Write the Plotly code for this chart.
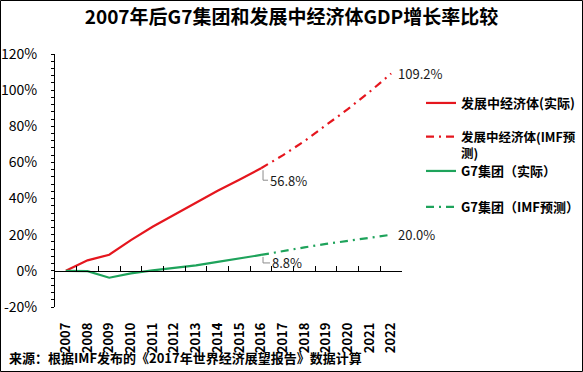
import plotly.graph_objects as go

years = list(range(2007, 2023))
year_labels = [str(y) for y in years]

actual_years = list(range(2007, 2017))
forecast_years = list(range(2016, 2023))

dev_actual = [0.0, 5.8, 8.9, 17.0, 24.4, 31.1, 37.8, 44.3, 50.4, 56.8]
dev_forecast = [56.8, 63.9, 71.8, 80.4, 89.5, 99.0, 109.2]
g7_actual = [0.0, -0.2, -3.8, -1.4, 0.3, 1.7, 3.0, 5.0, 7.0, 8.8]
g7_forecast = [8.8, 11.0, 13.0, 14.9, 16.7, 18.5, 20.0]

names = ["发展中经济体(实际)", "发展中经济体(IMF预<br>测)", "G7集团（实际）", "G7集团（IMF预测）"]
y_ticks = [-20, 0, 20, 40, 60, 80, 100, 120]

RED = "#e5161e"
GREEN = "#1ea35b"
DASH = "8px,5px,2px,5px"
FONT = "Noto Sans CJK SC"

W, H = 583, 372
L, R, T, B = 55, 181, 54, 65
PW, PH = W - L - R, H - T - B


def px_x(p):
    return (p - L) / PW


def px_y(p):
    return (H - B - p) / PH


fig = go.Figure()
fig.add_trace(go.Scatter(x=actual_years, y=dev_actual, mode="lines", name=names[0],
                         line=dict(color=RED, width=2.2), legend="legend"))
fig.add_trace(go.Scatter(x=forecast_years, y=dev_forecast, mode="lines", name=names[1],
                         line=dict(color=RED, width=2.2, dash=DASH), legend="legend2"))
fig.add_trace(go.Scatter(x=actual_years, y=g7_actual, mode="lines", name=names[2],
                         line=dict(color=GREEN, width=2.2), legend="legend3"))
fig.add_trace(go.Scatter(x=forecast_years, y=g7_forecast, mode="lines", name=names[3],
                         line=dict(color=GREEN, width=2.2, dash=DASH), legend="legend4"))
# helper trace for the category-boundary axis drawn at y = 0
fig.add_trace(go.Scatter(x=[years[0]], y=[0], xaxis="x2", mode="markers", opacity=0,
                         showlegend=False, hoverinfo="skip"))

xr = [years[0] - 0.5, years[-1] + 0.5]
fig.update_layout(
    width=W, height=H,
    margin=dict(l=L, r=R, t=T, b=B, autoexpand=False),
    paper_bgcolor="white", plot_bgcolor="white",
    font=dict(family=FONT, size=13, color="black"),
    title=dict(text="<b>2007年后G7集团和发展中经济体GDP增长率比较</b>",
               x=0.5, xref="container", xanchor="center",
               y=1 - 17 / H, yref="container", yanchor="middle",
               font=dict(size=19, family=FONT, color="black")),
    xaxis=dict(range=xr, tickmode="array", tickvals=years, ticktext=[f"<b>{t}</b>" for t in year_labels],
               tickangle=-90, showline=False, showgrid=False, zeroline=False, ticks="",
               ticklabelstandoff=12, tickfont=dict(size=13, family=FONT), automargin=False),
    xaxis2=dict(range=xr, overlaying="x", anchor="free", position=20 / 140, side="bottom",
                tickmode="array", tickvals=[y + 0.5 for y in years], ticks="inside", ticklen=5,
                tickcolor="black", showline=True, linecolor="black", linewidth=1,
                showticklabels=False, showgrid=False, zeroline=False, automargin=False),
    yaxis=dict(range=[-20, 120], tickmode="array", tickvals=y_ticks,
               ticktext=[f"{v}%" for v in y_ticks], showline=True, linecolor="black", linewidth=1,
               ticks="outside", ticklen=3, tickcolor="black", showgrid=False, zeroline=False,
               ticklabelstandoff=11, tickfont=dict(size=14, family=FONT), automargin=False,
               minor=dict(ticks="outside", ticklen=3, dtick=4, tick0=0, tickcolor="black", showgrid=False)),
    showlegend=True,
)

leg_common = dict(x=px_x(421), xanchor="left", yanchor="top", bgcolor="rgba(0,0,0,0)",
                  valign="top")
item_y = [101, 135, 169, 205]
fig.update_layout(
    legend=dict(**leg_common, y=px_y(item_y[0] - 13), font=dict(size=13, family=FONT, color="black")),
    legend2=dict(**leg_common, y=px_y(item_y[1] - 13), font=dict(size=12.5, family=FONT, color="black")),
    legend3=dict(**leg_common, y=px_y(item_y[2] - 13), font=dict(size=13, family=FONT, color="black")),
    legend4=dict(**leg_common, y=px_y(item_y[3] - 13), font=dict(size=13, family=FONT, color="black")),
)
for i, tr in enumerate(fig.data[:4]):
    tr.name = f"<b>{names[i]}</b>"

# data labels
lab_font = dict(size=13, family=FONT, color="#1a1a1a")
fig.add_annotation(x=forecast_years[-1], y=dev_forecast[-1], text=f"{dev_forecast[-1]:.1f}%",
                   showarrow=False, xanchor="left", yanchor="middle", xshift=5, font=lab_font)
fig.add_annotation(x=forecast_years[-1], y=g7_forecast[-1], text=f"{g7_forecast[-1]:.1f}%",
                   showarrow=False, xanchor="left", yanchor="middle", xshift=5, font=lab_font)
fig.add_annotation(x=actual_years[-1], y=dev_actual[-1], text=f"{dev_actual[-1]:.1f}%",
                   showarrow=False, xanchor="left", yanchor="middle", xshift=7, yshift=-12, font=lab_font)
fig.add_annotation(x=actual_years[-1], y=g7_actual[-1], text=f"{g7_actual[-1]:.1f}%",
                   showarrow=False, xanchor="left", yanchor="middle", xshift=9, yshift=-8, font=lab_font)
# leader lines
for yv, drop, run in [(dev_actual[-1], 12, 5), (g7_actual[-1], 8, 7)]:
    fig.add_shape(type="path", xref="x", yref="y", xsizemode="pixel", ysizemode="pixel",
                  xanchor=actual_years[-1], yanchor=yv,
                  path=f"M 2,-2 L 2,-{drop} L {2 + run},-{drop}",
                  line=dict(color="#8c8c8c", width=1))

# source note
fig.add_annotation(xref="paper", yref="paper", x=px_x(7), y=px_y(357), xanchor="left", yanchor="middle",
                   text="<b>来源：根据IMF发布的《2017年世界经济展望报告》数据计算</b>", showarrow=False,
                   font=dict(size=13, family=FONT, color="black"))
# outer frame
fig.add_shape(type="rect", xref="paper", yref="paper",
              x0=px_x(0.5), x1=px_x(W - 0.5), y0=px_y(H - 0.5), y1=px_y(0.5),
              line=dict(color="black", width=1), layer="above")

fig.write_html("out.html", config={"displayModeBar": False},
               post_script="document.body.style.margin='0';document.body.style.padding='0';")
